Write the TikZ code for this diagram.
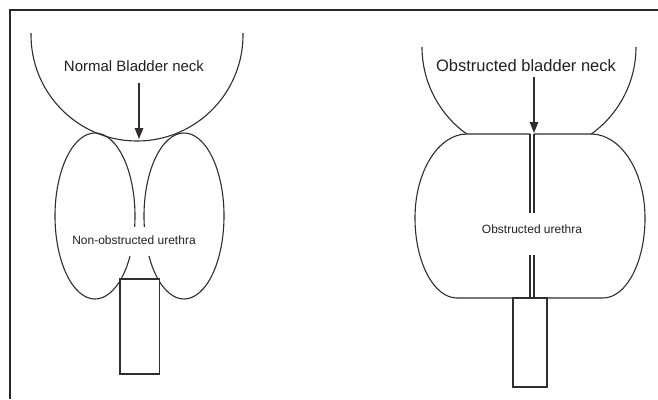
\documentclass[tikz,border=0pt]{standalone}
\usepackage{fontspec}
\setmainfont{Liberation Sans}
\usetikzlibrary{arrows.meta}
\definecolor{lineclr}{RGB}{50,45,45}
\definecolor{frameclr}{RGB}{40,40,40}
\definecolor{txtclr}{RGB}{35,32,32}
\begin{document}
\begin{tikzpicture}[x=1pt,y=-1pt,
  outline/.style={draw=lineclr,line width=1.1pt},
  frameline/.style={draw=frameclr,line width=1.3pt},
  title/.style={font=\fontsize{15}{18}\selectfont,text=txtclr,inner sep=0pt},
  caption/.style={font=\fontsize{12}{14}\selectfont,text=txtclr,inner sep=0pt},
  pointer/.style={draw=lineclr,line width=1.1pt,-{Triangle[length=11pt,width=8.5pt]}}]
\useasboundingbox[fill=white] (0,0) rectangle (658,399);

% frame (top and left edges)
\draw[frameline] (10,399) -- (10,10) -- (658,10);

% ---------- normal bladder neck ----------
% bladder
\draw[outline] (137,35) ++(181:106) arc[start angle=181,end angle=-1,radius=106];
% prostate lobes, inner sides broken around the caption
\draw[outline] (95,216) ++(28.8:40 and 83)
  arc[start angle=28.8,end angle=367.6,x radius=40,y radius=83];
\draw[outline] (184,216) ++(151.2:40 and 83)
  arc[start angle=151.2,end angle=-187.6,x radius=40,y radius=83];
% urethra
\draw[outline,fill=white] (120,279) rectangle (159.5,374);
\node[title] (lbl1) at (134,66) {Normal Bladder neck};
\node[caption] (ur1) at (134,240) {Non-obstructed urethra};
\coordinate (from1) at (139,83);
\coordinate (tip1) at (139,139);
\draw[pointer] (from1) -- (tip1);

% ---------- obstructed bladder neck ----------
% bladder
\draw[outline] (529,47) ++(180:107) arc[start angle=180,end angle=125.6,radius=107];
\draw[outline] (529,47) ++(0:107) arc[start angle=0,end angle=54.4,radius=107];
% left lobe
\draw[outline] (530,134) -- (467,134)
  arc[start angle=270,end angle=180,x radius=52,y radius=84]
  arc[start angle=180,end angle=90,x radius=42,y radius=80]
  -- (530,298);
% right lobe
\draw[outline] (534,134) -- (591,134)
  arc[start angle=270,end angle=360,x radius=54,y radius=84]
  arc[start angle=0,end angle=90,x radius=42,y radius=80]
  -- (534,298);
% compressed urethra between the lobes
\draw[outline] (530,134) -- (530,213) (530,255) -- (530,298);
\draw[outline] (534,134) -- (534,213) (534,255) -- (534,298);
% urethra below
\draw[outline,fill=white] (513,298) rectangle (547,387);
\node[title,font=\fontsize{16.5}{19}\selectfont] (lbl2) at (526,66) {Obstructed bladder neck};
\node[caption] (ur2) at (532,229) {Obstructed urethra};
\coordinate (from2) at (534,77);
\coordinate (tip2) at (534,133);
\draw[pointer] (from2) -- (tip2);
\end{tikzpicture}
\end{document}
